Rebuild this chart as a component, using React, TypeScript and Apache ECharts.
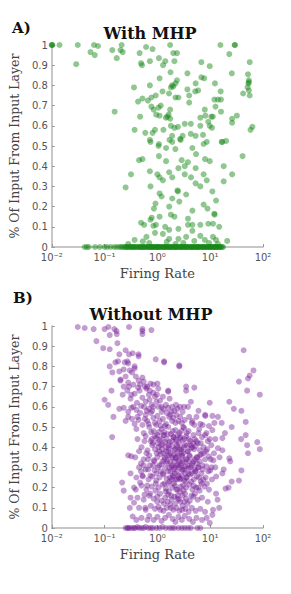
import React, { useEffect, useRef } from "react";
import * as echarts from "echarts";

// ---- Panel A: With MHP (firing rate, fraction of input from input layer)
const withMhpPoints: number[][] = [
  [0.01, 1], [0.01, 1], [0.0103, 1], [0.014, 1], [0.031, 1], [0.063, 1], [0.075, 0.995], [0.21, 1], [0.61, 0.99], [1.74, 1], [15.6, 1], [29, 1], [29.5, 1],
  [0.2, 0.975], [0.46, 0.96], [0.81, 0.98], [2.0, 0.96], [2.35, 0.96], [0.054, 0.965], [0.065, 0.95], [0.14, 0.975], [0.22, 0.965], [0.17, 0.935], [23, 0.955], [56, 0.915],
  [0.029, 0.905], [0.49, 0.91], [0.51, 0.9], [0.72, 0.92], [1.07, 0.935], [1.41, 0.92], [1.28, 0.9], [2.1, 0.92], [6.8, 0.915], [9.8, 0.895],
  [1.77, 0.865], [3.7, 0.86], [25.7, 0.86], [52, 0.855], [54, 0.825], [54, 0.815], [53, 0.81],
  [1.1, 0.835], [2.35, 0.825], [6.8, 0.84], [7.7, 0.835], [12.3, 0.81],
  [1.9, 0.8], [2.0, 0.795], [1.8, 0.79], [2.2, 0.81],
  [0.36, 0.79], [0.72, 0.8], [1.25, 0.77], [3.7, 0.78], [5.2, 0.77], [5.9, 0.775], [5.3, 0.81], [15.8, 0.77], [51, 0.79], [42, 0.76], [56, 0.75], [54, 0.775],
  [0.43, 0.72], [0.52, 0.735], [0.66, 0.725], [0.77, 0.74], [0.93, 0.75], [1.66, 0.76], [2.2, 0.74], [2.5, 0.74], [4.0, 0.75], [12, 0.73], [14, 0.73], [16, 0.73],
  [0.155, 0.67], [0.47, 0.645], [0.77, 0.695], [0.85, 0.68], [1.16, 0.7], [1.05, 0.69], [1.74, 0.68], [1.63, 0.655], [1.45, 0.64], [0.95, 0.655], [1.1, 0.65], [4.0, 0.715], [7.9, 0.68], [12.6, 0.695], [16, 0.67], [8.1, 0.65], [10.5, 0.645], [11.2, 0.645], [32, 0.65], [26, 0.635],
  [1.55, 0.645], [1.75, 0.635], [0.37, 0.58], [0.59, 0.565], [0.81, 0.565], [0.9, 0.58], [1.3, 0.58], [1.8, 0.6], [2.1, 0.59], [2.45, 0.595], [3.3, 0.61], [4.3, 0.61], [6.5, 0.64], [9.2, 0.62], [9.8, 0.6], [6.5, 0.6], [10.8, 0.59], [26, 0.615], [63, 0.595], [58, 0.58],
  [0.72, 0.53], [1.05, 0.5], [1.7, 0.53], [1.9, 0.55], [2.7, 0.535], [2.75, 0.53], [3.0, 0.55], [4.3, 0.56], [5.3, 0.55], [7.3, 0.555], [8.6, 0.52], [17, 0.52], [20, 0.525],
  [0.74, 0.52], [1.07, 0.51], [1.91, 0.52], [2.19, 0.485], [1.46, 0.49], [4.6, 0.49], [5.4, 0.46], [7.5, 0.51], [16.5, 0.52],
  [41, 0.45], [0.45, 0.43], [0.52, 0.435], [1.07, 0.45], [1.46, 0.425], [2.88, 0.43], [3.78, 0.42], [8, 0.435], [9.8, 0.425], [2.5, 0.39], [1.67, 0.37], [3.3, 0.4], [5.3, 0.39], [18, 0.4], [26, 0.36],
  [0.316, 0.36], [0.25, 0.295], [0.72, 0.375], [1.0, 0.36], [1.1, 0.345], [1.27, 0.33], [1.91, 0.345], [3.3, 0.36], [4.33, 0.345], [7.5, 0.36], [5.3, 0.315], [8.6, 0.33], [18, 0.325],
  [11, 0.275], [2.4, 0.28], [2.45, 0.275], [3.5, 0.26], [6.5, 0.3], [0.74, 0.3], [1.1, 0.265], [1.2, 0.25], [1.91, 0.24], [2.6, 0.225], [0.92, 0.215], [0.86, 0.19], [1.67, 0.2], [12.9, 0.23], [7.5, 0.21], [4.6, 0.18], [3.8, 0.14], [12, 0.165], [12.1, 0.16], [8.9, 0.19],
  [0.78, 0.145], [1.1, 0.15], [1.8, 0.16], [2.1, 0.15], [0.49, 0.12], [0.56, 0.11], [0.74, 0.135], [0.84, 0.105], [0.94, 0.11], [1.4, 0.1], [1.67, 0.085], [2.5, 0.09], [3.8, 0.11], [4.6, 0.11], [6.5, 0.11], [9.2, 0.115], [11.3, 0.115], [14.8, 0.1],
  [0.37, 0.035], [0.62, 0.05], [0.9, 0.07], [1.27, 0.065], [1.67, 0.04], [2.5, 0.04], [3.5, 0.05], [4.6, 0.08], [6.5, 0.055], [7.9, 0.035], [11.3, 0.05], [12.9, 0.035], [21, 0.03], [0.53, 0.028], [0.28, 0.015],
  [0.7, 0.02], [1.5, 0.025], [2.2, 0.015], [3.1, 0.02], [5.0, 0.03], [9.5, 0.02], [14, 0.015],
];

// firing rates of panel-A neurons receiving no input from the input layer
const withMhpZeroRates: number[] = [
  0.042, 0.046, 0.05, 0.066, 0.081, 0.1, 0.112, 0.13, 0.152, 0.17, 0.19, 0.205, 0.22, 0.235, 0.25, 0.265, 0.28, 0.3, 0.315,
  0.33, 0.35, 0.37, 0.39, 0.41, 0.43, 0.455, 0.48, 0.5, 0.53, 0.56, 0.59, 0.62, 0.65, 0.68, 0.72, 0.75, 0.79, 0.83, 0.87,
  0.91, 0.96, 1.0, 1.05, 1.1, 1.16, 1.22, 1.28, 1.35, 1.42, 1.5, 1.58, 1.66, 1.75, 1.84, 1.93, 2.03, 2.14, 2.25, 2.37,
  2.5, 2.63, 2.77, 2.92, 3.07, 3.23, 3.4, 3.58, 3.77, 3.97, 4.18, 4.4, 4.63, 4.88, 5.13, 5.4, 5.69, 5.99, 6.3, 6.64,
  6.99, 7.35, 7.74, 8.15, 8.58, 9.03, 9.5, 10, 10.5, 11.1, 11.7, 12.3, 12.9, 13.6, 14.3, 15.1, 15.9, 16.8, 17.5,
  0.26, 0.36, 0.46, 0.57, 0.69, 0.81, 0.94, 1.13, 1.31, 1.55, 1.8, 2.08, 2.32, 2.7, 3.15, 3.66, 4.3, 4.95, 5.55,
  6.15, 7.1, 8.3, 9.2, 10.3, 11.4, 12.6, 13.9, 15.5, 0.31, 0.52, 0.77, 1.02, 1.38, 1.71, 2.2, 2.85, 3.5, 4.5, 5.8, 7.5, 9.8, 12.1,
];

// ---- Panel B: Without MHP
const withoutMhpPoints: number[][] = [
  [0.031, 0.995], [0.042, 0.99], [0.062, 0.985], [0.1, 0.985], [0.118, 0.995], [0.153, 0.985], [0.168, 0.975], [0.29, 0.995], [0.52, 0.985], [0.52, 0.975], [0.52, 0.96], [0.77, 0.98],
  [0.125, 0.955], [0.17, 0.96], [0.07, 0.925], [0.094, 0.89], [0.125, 0.885], [0.175, 0.915], [0.19, 0.86], [0.25, 0.88], [0.29, 0.86], [0.34, 0.865], [0.44, 0.86], [0.44, 0.85],
  [0.125, 0.8], [0.16, 0.82], [0.18, 0.825], [0.24, 0.82], [0.27, 0.825], [0.28, 0.815], [0.37, 0.8], [0.14, 0.77], [0.19, 0.775], [0.23, 0.785], [0.3, 0.78], [0.37, 0.79], [0.93, 0.835], [1.34, 0.825], [1.34, 0.82], [2.6, 0.805], [2.6, 0.8],
  [43, 0.88], [66, 0.78], [56, 0.755], [52, 0.74], [35, 0.725], [50, 0.68], [87, 0.66],
  [0.2, 0.735], [0.2, 0.73], [0.23, 0.7], [0.135, 0.68], [0.28, 0.72], [0.29, 0.7], [0.35, 0.71], [0.44, 0.73], [0.52, 0.745], [0.55, 0.725], [0.64, 0.7], [0.74, 0.715], [0.84, 0.71], [1.0, 0.715], [1.04, 0.69], [1.6, 0.68], [1.6, 0.675], [3.5, 0.7], [5.0, 0.695], [3.5, 0.68],
  [0.27, 0.68], [0.32, 0.66], [0.37, 0.665], [0.46, 0.68], [0.52, 0.645], [0.69, 0.66], [0.84, 0.67], [0.9, 0.65], [1.27, 0.65],
  [0.1, 0.635], [0.117, 0.61], [0.19, 0.59], [0.23, 0.595], [0.28, 0.575], [0.32, 0.595], [0.4, 0.585], [0.49, 0.605], [0.6, 0.625], [0.69, 0.59], [0.84, 0.6], [1.05, 0.6], [1.2, 0.575], [1.6, 0.595], [1.85, 0.575], [2.4, 0.59], [3.0, 0.575], [3.8, 0.6], [4.3, 0.625], [9.8, 0.62], [11, 0.555], [16.5, 0.52], [23, 0.625], [28, 0.59], [39, 0.58], [47, 0.525],
  [0.147, 0.55], [0.28, 0.55], [0.25, 0.53], [0.37, 0.515], [0.44, 0.535], [0.52, 0.51], [0.64, 0.53], [0.84, 0.545], [1.0, 0.555], [1.1, 0.53], [1.27, 0.54], [1.45, 0.515], [1.67, 0.55], [1.9, 0.53], [2.2, 0.52], [2.7, 0.55], [3.3, 0.535], [4.0, 0.55], [5.0, 0.51], [6.5, 0.515], [7.2, 0.51], [8.0, 0.56], [8.1, 0.555],
  [0.9, 0.52], [1.2, 0.6], [1.3, 0.59], [1.5, 0.57], [1.75, 0.56], [2.0, 0.545], [2.3, 0.56], [2.5, 0.53], [2.9, 0.52], [3.1, 0.5], [1.4, 0.505], [1.15, 0.505], [0.95, 0.51], [0.75, 0.57], [0.6, 0.56], [0.58, 0.54], [0.68, 0.515], [0.8, 0.58], [0.47, 0.57], [0.42, 0.55], [0.35, 0.6], [0.33, 0.54], [1.9, 0.6], [2.1, 0.58], [2.7, 0.6], [5.5, 0.55], [6.0, 0.58], [4.6, 0.53], [9.5, 0.505], [12, 0.52], [14, 0.55], [4.5, 0.52],
  [0.31, 0.64], [0.41, 0.62], [0.56, 0.6], [0.63, 0.58], [0.71, 0.635], [0.78, 0.61], [0.96, 0.625], [0.43, 0.695], [0.62, 0.69], [0.72, 0.68], [0.98, 0.66], [1.12, 0.63], [0.39, 0.75], [0.47, 0.71], [0.58, 0.7], [0.25, 0.75], [0.33, 0.77], [0.22, 0.66], [1.45, 0.61], [2.25, 0.61], [3.2, 0.6], [1.7, 0.64],
  [0.139, 0.45], [0.215, 0.225], [0.23, 0.185], [0.28, 0.36], [0.32, 0.355], [0.31, 0.27], [0.31, 0.15], [0.36, 0.125], [0.3, 0.1], [0.34, 0.057], [0.39, 0.19], [0.45, 0.38], [0.49, 0.32], [0.53, 0.255], [0.47, 0.225], [0.57, 0.165], [0.59, 0.1], [0.65, 0.04], [0.4, 0.04],
  [0.25, 0], [0.28, 0], [0.33, 0], [0.38, 0], [0.42, 0.005], [0.5, 0], [0.68, 0], [0.82, 0], [0.96, 0], [1.45, 0], [1.7, 0], [1.9, 0], [2.5, 0], [3.3, 0], [4.3, 0], [5.7, 0], [6.5, 0], [0.27, 0], [0.3, 0], [0.36, 0], [0.45, 0], [0.55, 0], [0.6, 0.005], [0.75, 0], [1.1, 0], [1.25, 0.005], [2.1, 0], [2.9, 0], [3.8, 0],
  [87, 0.39], [78, 0.425], [50, 0.41], [52, 0.37], [47, 0.46], [38.5, 0.44], [39, 0.285], [35, 0.235], [25.5, 0.23], [23, 0.345], [24, 0.33], [25.5, 0.5], [19, 0.47], [17, 0.445], [17, 0.385], [22.3, 0.2], [19.5, 0.195], [17, 0.27], [14.8, 0.1], [11.3, 0.09], [11, 0.065], [12.9, 0.17], [13.8, 0.14], [8.6, 0.05], [9.8, 0.025],
  [0.4, 0.49], [0.55, 0.47], [0.7, 0.5], [0.85, 0.48], [1.0, 0.46], [1.2, 0.49], [1.35, 0.475], [1.6, 0.5], [1.8, 0.465], [2.2, 0.485], [2.6, 0.47], [3.2, 0.495], [3.9, 0.48], [4.8, 0.46], [6.2, 0.49], [8.5, 0.47], [11, 0.485],
  [0.42, 0.44], [0.6, 0.455], [0.75, 0.43], [0.95, 0.445], [1.1, 0.435], [1.3, 0.46], [1.5, 0.44], [1.7, 0.425], [2.0, 0.45], [2.3, 0.43], [2.7, 0.445], [3.0, 0.435], [3.5, 0.455], [4.2, 0.43], [5.1, 0.44], [5.8, 0.42], [7.0, 0.45], [9.0, 0.43], [12.5, 0.44],
  [0.5, 0.4], [0.65, 0.385], [0.8, 0.41], [0.9, 0.39], [1.05, 0.4], [1.25, 0.415], [1.45, 0.38], [1.65, 0.395], [1.9, 0.405], [2.1, 0.385], [2.4, 0.4], [2.8, 0.39], [3.3, 0.41], [3.7, 0.38], [4.4, 0.395], [5.3, 0.405], [6.4, 0.385], [7.5, 0.4], [8.8, 0.39], [10.5, 0.41], [14, 0.395],
  [0.38, 0.35], [0.55, 0.34], [0.7, 0.36], [0.85, 0.335], [1.0, 0.35], [1.15, 0.365], [1.35, 0.34], [1.55, 0.355], [1.75, 0.33], [2.0, 0.36], [2.2, 0.345], [2.5, 0.335], [2.9, 0.355], [3.1, 0.37], [3.6, 0.34], [4.1, 0.355], [4.8, 0.33], [5.5, 0.35], [6.8, 0.365], [8.0, 0.34], [9.5, 0.355], [11.5, 0.335], [15, 0.35],
  [0.45, 0.3], [0.6, 0.29], [0.72, 0.31], [0.88, 0.285], [1.02, 0.3], [1.2, 0.315], [1.4, 0.295], [1.6, 0.28], [1.85, 0.305], [2.05, 0.29], [2.3, 0.31], [2.6, 0.3], [3.0, 0.285], [3.4, 0.305], [3.9, 0.295], [4.5, 0.31], [5.2, 0.28], [6.0, 0.3], [7.2, 0.29], [8.5, 0.305], [10, 0.285], [12.5, 0.3], [18, 0.29],
  [0.4, 0.25], [0.52, 0.26], [0.68, 0.24], [0.8, 0.255], [0.95, 0.235], [1.1, 0.25], [1.3, 0.265], [1.5, 0.245], [1.7, 0.23], [1.95, 0.255], [2.2, 0.24], [2.5, 0.26], [2.8, 0.245], [3.2, 0.235], [3.6, 0.25], [4.2, 0.265], [4.9, 0.24], [5.6, 0.255], [6.6, 0.23], [8.2, 0.25], [10.8, 0.24], [13, 0.255],
  [0.36, 0.2], [0.5, 0.21], [0.62, 0.19], [0.78, 0.205], [0.92, 0.185], [1.05, 0.2], [1.25, 0.215], [1.45, 0.195], [1.65, 0.18], [1.9, 0.2], [2.15, 0.21], [2.4, 0.19], [2.75, 0.205], [3.1, 0.185], [3.5, 0.2], [4.0, 0.215], [4.6, 0.19], [5.4, 0.2], [6.3, 0.185], [7.8, 0.205], [9.5, 0.19],
  [0.42, 0.15], [0.55, 0.14], [0.7, 0.16], [0.85, 0.145], [1.0, 0.155], [1.2, 0.135], [1.4, 0.15], [1.6, 0.165], [1.85, 0.14], [2.1, 0.155], [2.4, 0.145], [2.7, 0.13], [3.0, 0.16], [3.5, 0.145], [4.1, 0.135], [4.8, 0.155], [5.8, 0.14], [7.0, 0.15], [9.0, 0.13],
  [0.45, 0.1], [0.6, 0.09], [0.75, 0.11], [0.9, 0.095], [1.05, 0.105], [1.3, 0.085], [1.5, 0.1], [1.75, 0.115], [2.0, 0.09], [2.3, 0.1], [2.6, 0.085], [3.0, 0.11], [3.4, 0.095], [3.9, 0.08], [4.5, 0.1], [5.3, 0.085], [6.5, 0.095], [8.0, 0.08],
  [0.5, 0.05], [0.7, 0.06], [0.85, 0.04], [1.0, 0.055], [1.2, 0.035], [1.4, 0.05], [1.65, 0.065], [1.95, 0.045], [2.2, 0.03], [2.5, 0.055], [2.9, 0.04], [3.3, 0.06], [4.0, 0.045], [4.7, 0.03], [5.5, 0.05], [7.0, 0.04],
  [0.82, 0.42], [0.97, 0.37], [1.08, 0.31], [1.18, 0.44], [1.27, 0.27], [1.39, 0.35], [1.47, 0.4], [1.59, 0.22], [1.69, 0.3], [1.77, 0.37], [1.89, 0.43], [1.98, 0.26], [2.09, 0.33], [2.17, 0.39], [2.29, 0.19], [2.36, 0.28], [2.49, 0.36], [2.57, 0.42], [2.69, 0.24], [2.77, 0.31], [2.87, 0.38], [3.06, 0.21], [3.24, 0.29], [3.47, 0.34], [3.63, 0.41], [3.86, 0.27], [4.04, 0.36], [4.36, 0.23], [4.64, 0.32], [4.96, 0.39], [5.31, 0.28], [5.68, 0.35], [6.12, 0.25], [6.6, 0.42], [7.1, 0.31], [7.6, 0.37],
  [0.66, 0.34], [0.74, 0.26], [0.78, 0.44], [0.93, 0.22], [1.12, 0.17], [1.22, 0.39], [1.33, 0.46], [1.43, 0.18], [1.53, 0.33], [1.63, 0.41], [1.73, 0.25], [1.83, 0.16], [1.93, 0.35], [2.03, 0.45], [2.13, 0.27], [2.23, 0.35], [2.33, 0.41], [2.43, 0.16], [2.53, 0.25], [2.63, 0.33], [2.73, 0.45], [2.95, 0.29], [3.15, 0.4], [3.35, 0.17], [3.55, 0.25], [3.75, 0.31], [3.95, 0.44], [4.25, 0.3], [4.55, 0.4], [4.85, 0.21], [5.1, 0.34], [5.5, 0.43], [5.9, 0.3], [6.4, 0.36], [6.9, 0.22], [8.3, 0.38], [9.2, 0.28], [10.2, 0.34],
  [1.15, 0.28], [1.62, 0.38], [2.05, 0.22], [2.45, 0.31], [2.95, 0.36], [3.45, 0.23], [1.36, 0.22], [1.78, 0.28], [2.22, 0.44], [2.68, 0.18], [3.1, 0.33], [3.8, 0.38], [1.02, 0.42], [0.88, 0.33], [1.25, 0.33], [1.9, 0.31], [2.35, 0.24], [2.85, 0.26], [3.3, 0.44], [4.2, 0.41],
  [0.57, 0.43], [0.62, 0.37], [0.76, 0.475], [0.89, 0.455], [1.07, 0.475], [1.17, 0.41], [1.41, 0.425], [1.57, 0.465], [1.94, 0.48], [2.4, 0.46], [2.83, 0.48], [3.6, 0.47], [0.64, 0.21], [0.73, 0.17], [0.99, 0.13], [1.14, 0.09], [1.33, 0.12], [1.56, 0.13], [1.8, 0.1], [2.16, 0.12],
  [2.55, 0.14], [2.95, 0.09], [3.25, 0.13], [3.72, 0.12], [4.4, 0.16], [5.15, 0.17], [5.95, 0.2], [6.8, 0.27], [7.4, 0.24], [8.7, 0.22], [10.6, 0.3], [11.8, 0.37], [9.8, 0.44], [8.0, 0.46], [6.0, 0.47], [4.75, 0.42],
  [0.55, 0.31], [0.49, 0.28], [0.67, 0.29], [0.83, 0.31], [0.96, 0.27], [1.08, 0.38], [1.3, 0.37], [1.5, 0.32], [1.67, 0.36], [1.86, 0.24], [2.12, 0.3], [2.38, 0.37], [2.64, 0.39], [2.96, 0.32], [3.38, 0.27], [3.92, 0.33], [4.47, 0.27], [5.03, 0.29], [5.62, 0.32], [6.3, 0.33],
];

const GREEN = "rgba(22,136,22,0.6)";
const PURPLE = "rgba(118,30,150,0.55)";
const SUP: Record<string, string> = { "-2": "10⁻²", "-1": "10⁻¹", "0": "10⁰", "1": "10¹", "2": "10²" };
const yTicks = [0, 0.1, 0.2, 0.3, 0.4, 0.5, 0.6, 0.7, 0.8, 0.9, 1];

function makeX(gridIndex: number) {
  return {
    type: "log",
    gridIndex,
    logBase: 10,
    min: 0.01,
    max: 100,
    name: "Firing Rate",
    nameLocation: "middle",
    nameGap: 20,
    nameTextStyle: { fontFamily: "DejaVu Serif", fontSize: 13, color: "#444" },
    axisLine: { show: true, lineStyle: { color: "#b5b5b5", width: 1.5 } },
    axisTick: { show: true, inside: true, length: 3, lineStyle: { color: "#999" } },
    axisLabel: {
      fontFamily: "DejaVu Sans",
      fontSize: 10,
      color: "#555",
      margin: 5,
      formatter: (v: number) => SUP[String(Math.round(Math.log10(v)))] ?? "",
    },
    splitLine: { show: false },
  };
}

function makeY(gridIndex: number) {
  return {
    type: "value",
    gridIndex,
    min: yTicks[0],
    max: yTicks[yTicks.length - 1],
    interval: 0.1,
    name: "% Of Input From Input Layer",
    nameLocation: "middle",
    nameGap: 25,
    nameTextStyle: { fontFamily: "DejaVu Serif", fontSize: 12.5, color: "#444" },
    axisLine: { show: true, lineStyle: { color: "#b5b5b5", width: 1.5 } },
    axisTick: { show: true, inside: true, length: 3, lineStyle: { color: "#999" } },
    axisLabel: {
      fontFamily: "DejaVu Sans",
      fontSize: 10,
      color: "#555",
      margin: 4,
      formatter: (v: number) => (v === 0 ? "0" : v === 1 ? "1" : v.toFixed(1)),
    },
    splitLine: { show: false },
  };
}

export default function App() {
  const ref = useRef<HTMLDivElement>(null);
  useEffect(() => {
    if (!ref.current) return;
    const chart = echarts.init(ref.current, undefined, { renderer: "svg" });
    const aData = withMhpPoints.concat(withMhpZeroRates.map((r) => [r, 0]));
    chart.setOption({
      animation: false,
      backgroundColor: "#ffffff",
      grid: [
        { left: 38, top: 45, width: 225, height: 202 },
        { left: 38, top: 326, width: 225, height: 202 },
      ],
      xAxis: [makeX(0), makeX(1)],
      yAxis: [makeY(0), makeY(1)],
      graphic: [
        { type: "text", x: 12, y: 28, style: { text: "A)", font: 'bold 15px "DejaVu Serif"', fill: "#111", align: "left", verticalAlign: "middle" } },
        { type: "text", x: 150, y: 33, style: { text: "With MHP", font: 'bold 16px "DejaVu Serif"', fill: "#111", align: "center", verticalAlign: "middle" } },
        { type: "text", x: 13, y: 298, style: { text: "B)", font: 'bold 15px "DejaVu Serif"', fill: "#111", align: "left", verticalAlign: "middle" } },
        { type: "text", x: 151, y: 314, style: { text: "Without MHP", font: 'bold 16px "DejaVu Serif"', fill: "#111", align: "center", verticalAlign: "middle" } },
      ],
      series: [
        {
          type: "scatter",
          xAxisIndex: 0,
          yAxisIndex: 0,
          data: aData,
          symbolSize: 6,
          itemStyle: { color: GREEN },
          clip: false,
        },
        {
          type: "scatter",
          xAxisIndex: 1,
          yAxisIndex: 1,
          data: withoutMhpPoints,
          symbolSize: 6,
          itemStyle: { color: PURPLE },
          clip: false,
        },
      ],
    });
    return () => chart.dispose();
  }, []);
  return <div ref={ref} style={{ position: "fixed", left: 0, top: 0, width: 291, height: 594 }} />;
}
